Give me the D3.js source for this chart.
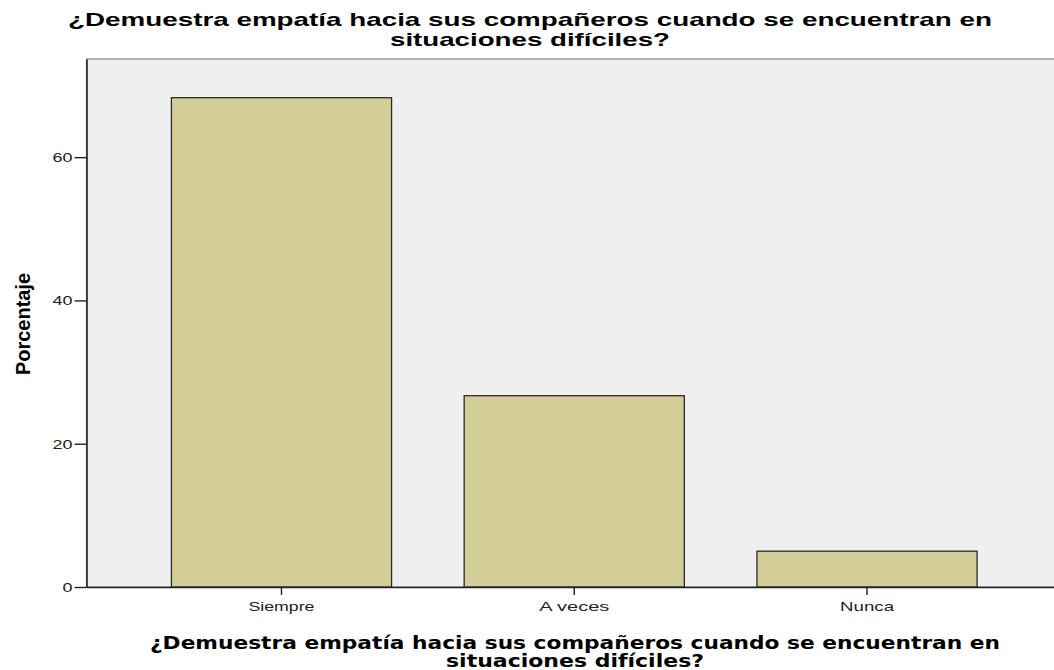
<!DOCTYPE html>
<html><head><meta charset="utf-8">
<script src="https://cdn.jsdelivr.net/npm/d3@7"></script>
<style>html,body{margin:0;padding:0;background:#fff;overflow:hidden}</style>
</head><body>
<svg id="chart" width="1054" height="670"></svg>
<script>
const categories = ["Siempre", "A veces", "Nunca"];
const values = [68.3, 26.7, 5.0];
const yTicks = [0, 20, 40, 60];
const titleLines = ["¿Demuestra empatía hacia sus compañeros cuando se encuentran en", "situaciones difíciles?"];
const yLabel = "Porcentaje";

(function () {
const svg = d3.select("#chart");
const pL = 86.5, pR = 1062, pT = 59, pB = 587;

const x = d3.scaleBand().domain(categories).range([pL, pR])
  .paddingInner(0.248).paddingOuter(0.29);
const y = d3.scaleLinear().domain([0, 73.7]).range([pB, pT]);

// plot background
svg.append("rect").attr("x", pL).attr("y", pT).attr("width", pR - pL).attr("height", pB - pT)
  .attr("fill", "#efefef").attr("stroke", "#888").attr("stroke-width", 1.2);

// bars
svg.selectAll(".bar").data(values).enter().append("rect")
  .attr("class", "bar")
  .attr("x", (d, i) => x(categories[i]))
  .attr("y", d => y(d))
  .attr("width", x.bandwidth())
  .attr("height", d => y(0) - y(d))
  .attr("fill", "#d3ce97").attr("stroke", "#2a2a2a").attr("stroke-width", 1.3);

const font = "Liberation Sans, Arial, sans-serif";

// axes
const yAxis = d3.axisLeft(y).tickValues(yTicks).tickSize(12).tickSizeOuter(0).tickPadding(2);
const gy = svg.append("g").attr("transform", `translate(${pL},0)`).call(yAxis);
gy.select(".domain").attr("stroke", "#222").attr("stroke-width", 1.6);
gy.selectAll(".tick line").attr("stroke", "#222").attr("stroke-width", 1.4);
gy.selectAll(".tick text").attr("font-family", font).attr("font-size", 13.5).attr("fill", "#222")
  .attr("textLength", d => d === 0 ? 10 : 20).attr("lengthAdjust", "spacingAndGlyphs");

const xLens = [66, 70, 54];
const xAxis = d3.axisBottom(x).tickSize(8).tickSizeOuter(0).tickPadding(7);
const gx = svg.append("g").attr("transform", `translate(0,${pB})`).call(xAxis);
gx.select(".domain").attr("stroke", "#222").attr("stroke-width", 1.6);
gx.selectAll(".tick line").attr("stroke", "#222").attr("stroke-width", 1.4);
gx.selectAll(".tick text").attr("font-family", font).attr("font-size", 13).attr("fill", "#222")
  .attr("textLength", (d, i) => xLens[i]).attr("lengthAdjust", "spacingAndGlyphs");

// title
const tW = [924, 280];
titleLines.forEach((t, i) => {
  svg.append("text").attr("x", 530).attr("y", 26 + i * 19.5).attr("text-anchor", "middle")
    .attr("font-family", font).attr("font-weight", "bold").attr("font-size", 18.5)
    .attr("textLength", tW[i]).attr("lengthAdjust", "spacingAndGlyphs").text(t);
});

// x axis title
const bW = [850, 258];
titleLines.forEach((t, i) => {
  svg.append("text").attr("x", 575).attr("y", 649 + i * 18).attr("text-anchor", "middle")
    .attr("font-family", "DejaVu Sans, Verdana, sans-serif").attr("font-weight", "bold").attr("font-size", 17)
    .attr("textLength", bW[i]).attr("lengthAdjust", "spacingAndGlyphs").text(t);
});

// y axis title
svg.append("text").attr("transform", "translate(30,324) rotate(-90)").attr("text-anchor", "middle")
  .attr("font-family", font).attr("font-weight", "bold").attr("font-size", 20)
  .attr("textLength", 102).attr("lengthAdjust", "spacingAndGlyphs").text(yLabel);
})();
</script>
</body></html>
